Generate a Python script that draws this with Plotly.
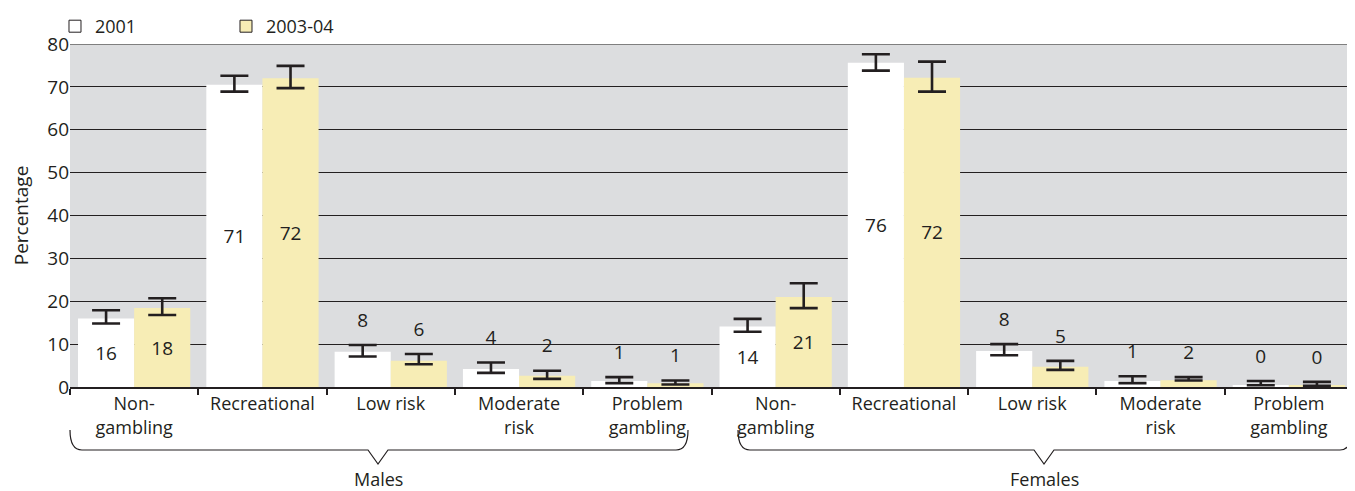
import plotly.graph_objects as go

# ---------------- data ----------------
groups = ["Males", "Females"]
categories = ["Non-gambling", "Recreational", "Low risk", "Moderate risk", "Problem gambling"]
cat_labels = ["Non-<br>gambling", "Recreational", "Low risk", "Moderate<br>risk", "Problem<br>gambling"]
years = ["2001", "2003-04"]

v2001 = [16.0, 70.5, 8.2, 4.2, 1.4, 14.1, 75.6, 8.4, 1.4, 0.4]
lo2001 = [14.8, 68.9, 7.1, 3.3, 0.9, 12.9, 73.8, 7.4, 0.9, 0.4]
hi2001 = [17.9, 72.6, 9.8, 5.7, 2.3, 15.9, 77.6, 10.0, 2.5, 1.4]
lab2001 = ["16", "71", "8", "4", "1", "14", "76", "8", "1", "0"]

v2003 = [18.4, 72.0, 6.1, 2.6, 0.9, 21.0, 72.1, 4.7, 1.6, 0.3]
lo2003 = [16.8, 69.7, 5.3, 1.9, 0.6, 18.4, 68.9, 4.0, 1.5, 0.3]
hi2003 = [20.7, 74.9, 7.7, 3.8, 1.5, 24.2, 75.9, 6.1, 2.3, 1.2]
lab2003 = ["18", "72", "6", "2", "1", "21", "72", "5", "2", "0"]

label_inside = [True, True, False, False, False, True, True, False, False, False]

y_ticks = [0, 10, 20, 30, 40, 50, 60, 70, 80]

# ---------------- styling ----------------
FONT = "Open Sans"
INK = "#231f20"
BG = "#dcdddf"
YELLOW = "#f7edb5"
FS = 19

keys = [f"{g}|{c}" for g in groups for c in categories]
ticktext = cat_labels * len(groups)

fig = go.Figure()

series = [
    ("2001", v2001, lo2001, hi2001, lab2001, "white", "a"),
    ("2003-04", v2003, lo2003, hi2003, lab2003, YELLOW, "b"),
]

for name, vals, lo, hi, labs, col, grp in series:
    fig.add_trace(go.Bar(
        x=keys, y=vals, name=name, offsetgroup=grp, showlegend=False,
        marker=dict(color=col, line=dict(width=0)),
        error_y=dict(type="data", symmetric=False,
                     array=[h - v for h, v in zip(hi, vals)],
                     arrayminus=[v - l for v, l in zip(vals, lo)],
                     color=INK, thickness=2.6, width=14),
        text=[t if ins else "" for t, ins in zip(labs, label_inside)],
        textposition="inside", insidetextanchor="middle", textangle=0,
        constraintext="none",
        textfont=dict(family=FONT, size=FS, color=INK),
        hoverinfo="skip",
    ))
    fig.add_trace(go.Scatter(
        x=keys, y=hi, mode="markers+text", offsetgroup=grp, showlegend=False,
        marker=dict(size=20, opacity=0),
        text=[t if not ins else "" for t, ins in zip(labs, label_inside)],
        textposition="top center",
        textfont=dict(family=FONT, size=FS, color=INK),
        hoverinfo="skip",
    ))
    # legend-only entry with outlined swatch
    fig.add_trace(go.Bar(
        x=[keys[0]], y=[None], name=name, offsetgroup=grp,
        marker=dict(color=col, line=dict(color=INK, width=1)),
        hoverinfo="skip",
    ))

# ---------------- layout geometry (page body adds an 8px offset) ----------------
OFF = 8
FIG_W, FIG_H = 1355 - OFF, 491 - OFF
L, R, T, B = 62, 2, 36, 104
W, H = FIG_W - L - R, FIG_H - T - B


def px(xp):
    return (xp - OFF - L) / W


def py(yp):
    return (T + H - (yp - OFF)) / H


def brace(x0p, x1p, tipp, ytop=430, ymid=450, ytip=464, r=12, d=10):
    x0, x1, tip = px(x0p), px(x1p), px(tipp)
    rr, dd = r / W, d / W
    yt, ym, yk = py(ytop), py(ymid), py(ytip)
    return (f"M {x0},{yt} Q {x0},{ym} {x0 + rr},{ym} L {tip - dd},{ym} "
            f"L {tip},{yk} L {tip + dd},{ym} L {x1 - rr},{ym} Q {x1},{ym} {x1},{yt}")


shapes = [
    dict(type="path", xref="paper", yref="paper", path=brace(70, 688, 378),
         line=dict(color=INK, width=1.2)),
    dict(type="path", xref="paper", yref="paper", path=brace(738, 1352, 1044),
         line=dict(color=INK, width=1.2)),
    dict(type="line", xref="paper", yref="y", x0=0, x1=1, y0=80, y1=80,
         line=dict(color="#7f7f7f", width=2), layer="above"),
]

annotations = [
    dict(text="Males", x=px(378), y=py(479), xref="paper", yref="paper", xanchor="center",
         showarrow=False, font=dict(family=FONT, size=FS - 1, color=INK), yanchor="middle"),
    dict(text="Females", x=px(1044), y=py(479), xref="paper", yref="paper", xanchor="center",
         showarrow=False, font=dict(family=FONT, size=FS - 1, color=INK), yanchor="middle"),
]

fig.update_layout(
    width=FIG_W, height=FIG_H,
    margin=dict(l=L, r=R, t=T, b=B, autoexpand=False),
    paper_bgcolor="white", plot_bgcolor=BG,
    font=dict(family=FONT, size=FS, color=INK),
    barmode="group", bargap=0.125, bargroupgap=0,
    scattermode="group", scattergap=0.125,
    shapes=shapes, annotations=annotations,
    legend=dict(orientation="h", x=-0.0117, xanchor="left", y=1 + T / H, yanchor="top",
                entrywidth=126, entrywidthmode="pixels",
                font=dict(family=FONT, size=FS - 1, color=INK),
                bgcolor="rgba(0,0,0,0)"),
    xaxis=dict(type="category", tickmode="array", tickvals=keys, ticktext=ticktext,
               tickson="boundaries", ticks="outside", ticklen=6, tickcolor=INK, tickwidth=1.5,
               showline=True, linecolor=INK, linewidth=1.5, showgrid=False,
               tickfont=dict(family=FONT, size=FS - 1, color=INK)),
    yaxis=dict(range=[0, 80], tickvals=y_ticks, showgrid=True, gridcolor=INK, gridwidth=1,
               zeroline=False, ticks="", ticklen=0, automargin=True,
               tickfont=dict(family=FONT, size=FS, color=INK),
               title=dict(text="Percentage", font=dict(family=FONT, size=FS, color=INK), standoff=14)),
)

fig.write_html("out.html")
